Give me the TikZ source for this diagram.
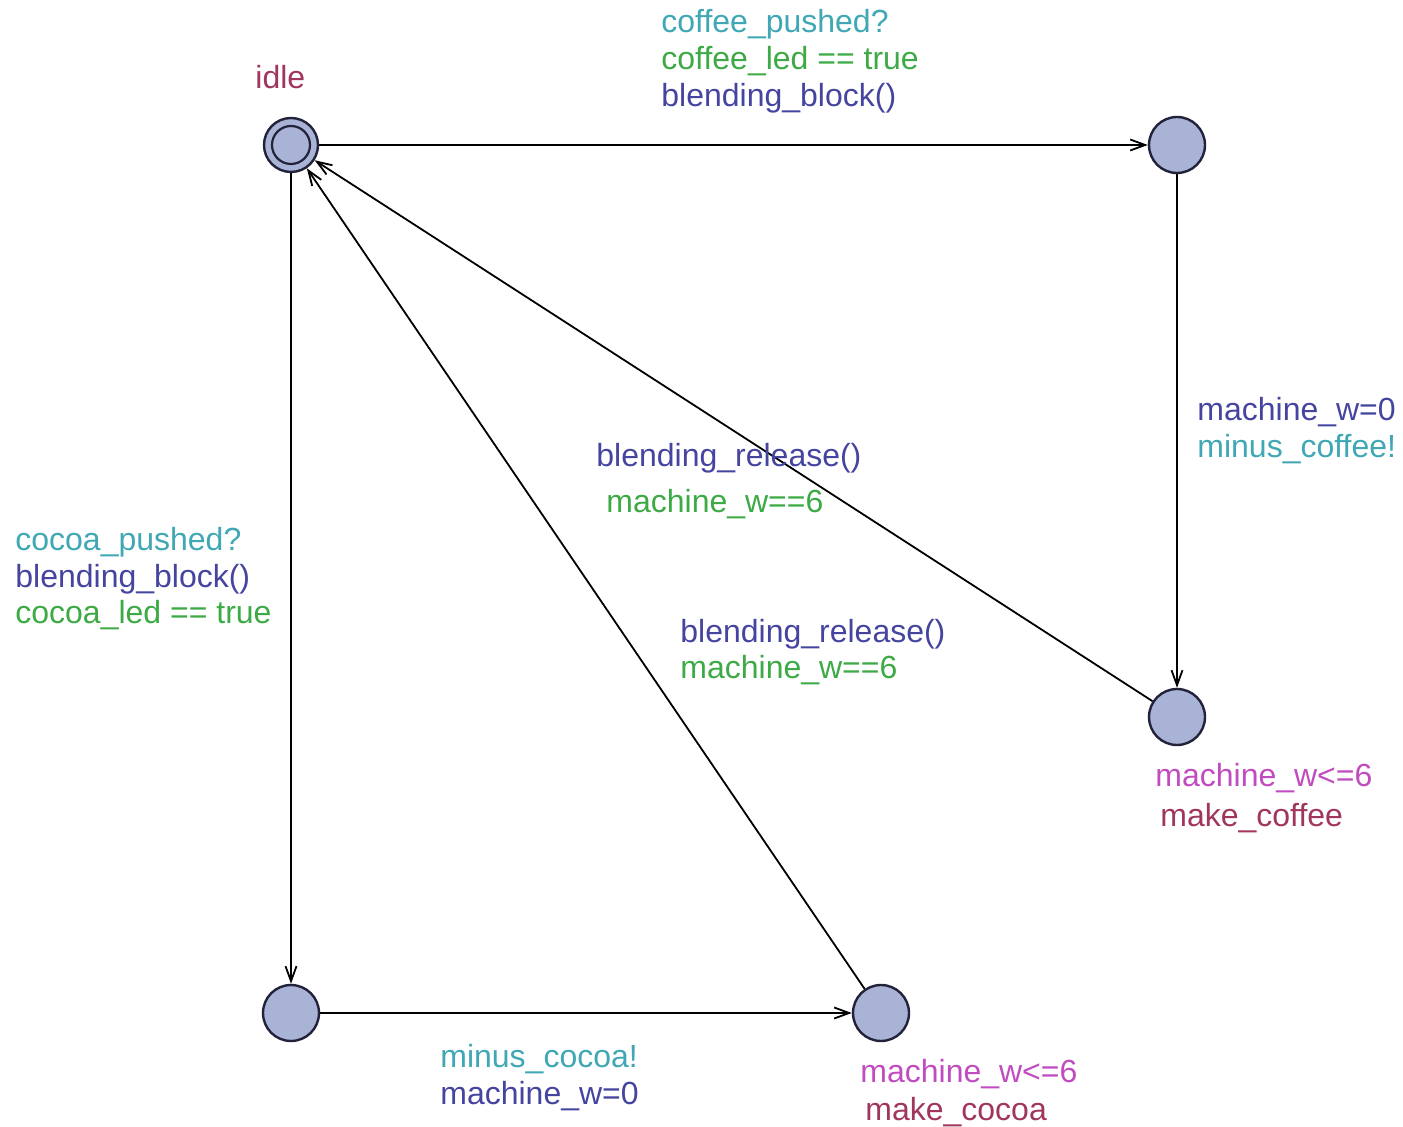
\documentclass[tikz,border=0pt]{standalone}
\usepackage{fontspec}
\setmainfont{Liberation Sans}
\usetikzlibrary{arrows.meta}
\definecolor{chancol}{HTML}{3FA8B4}
\definecolor{guardcol}{HTML}{3DAA45}
\definecolor{updcol}{HTML}{4545A0}
\definecolor{invcol}{HTML}{C04CC0}
\definecolor{namecol}{HTML}{A0365E}
\definecolor{locfill}{HTML}{A8B3D6}
\definecolor{locline}{HTML}{22223A}
\tikzset{
  loc/.style={circle, draw=locline, fill=locfill, line width=1.2pt, minimum size=28pt, inner sep=0pt},
  initloc/.style={loc, minimum size=27pt},
  lbl/.style={anchor=west, inner sep=0pt, font=\fontsize{16}{18.5}\selectfont, text height=11.5pt, text depth=3.5pt},
  edge/.style={draw=black, line width=0.9pt, -{Straight Barb[length=7.5pt, width=5.5pt, line width=0.9pt]}},
}
\begin{document}
\begin{tikzpicture}[x=0.5pt, y=-0.5pt]
\useasboundingbox (0,0) rectangle (1403,1127);
% locations
\node[initloc] (idle) at (291,145) {};
\draw[draw=locline, line width=1.1pt] (idle.center) circle (19);
\node[loc] (cof1) at (1177,145) {};
\node[loc] (cof2) at (1177,717) {};
\node[loc] (coc1) at (291,1013) {};
\node[loc] (coc2) at (881,1013) {};
% edges
\draw[edge] (idle) -- (cof1);
\draw[edge] (cof1) -- (cof2);
\draw[edge] (cof2) -- (idle);
\draw[edge] (idle) -- (coc1);
\draw[edge] (coc1) -- (coc2);
\draw[edge] (coc2) -- (idle);
% location names and invariants
\node[lbl, text=namecol] (nidle) at (255,81) {idle};
\node[lbl, text=invcol] (inv1) at (1155,779) {machine\_w<=6};
\node[lbl, text=namecol] (n1) at (1160,819) {make\_coffee};
\node[lbl, text=invcol] (inv2) at (860,1074) {machine\_w<=6};
\node[lbl, text=namecol] (n2) at (865,1112) {make\_cocoa};
% edge labels: coffee branch
\node[lbl, text=chancol] at (661,25) {coffee\_pushed?};
\node[lbl, text=guardcol] at (661,62) {coffee\_led == true};
\node[lbl, text=updcol] at (661,99) {blending\_block()};
\node[lbl, text=updcol] at (1197,413) {machine\_w=0};
\node[lbl, text=chancol] at (1197,450) {minus\_coffee!};
\node[lbl, text=updcol] at (596,459) {blending\_release()};
\node[lbl, text=guardcol] at (606,505) {machine\_w==6};
% edge labels: cocoa branch
\node[lbl, text=chancol] at (15,543) {cocoa\_pushed?};
\node[lbl, text=updcol] at (15,580) {blending\_block()};
\node[lbl, text=guardcol] at (15,616) {cocoa\_led == true};
\node[lbl, text=chancol] at (440,1059) {minus\_cocoa!};
\node[lbl, text=updcol] at (440,1096) {machine\_w=0};
\node[lbl, text=updcol] at (680,635) {blending\_release()};
\node[lbl, text=guardcol] at (680,671) {machine\_w==6};
\end{tikzpicture}
\end{document}
